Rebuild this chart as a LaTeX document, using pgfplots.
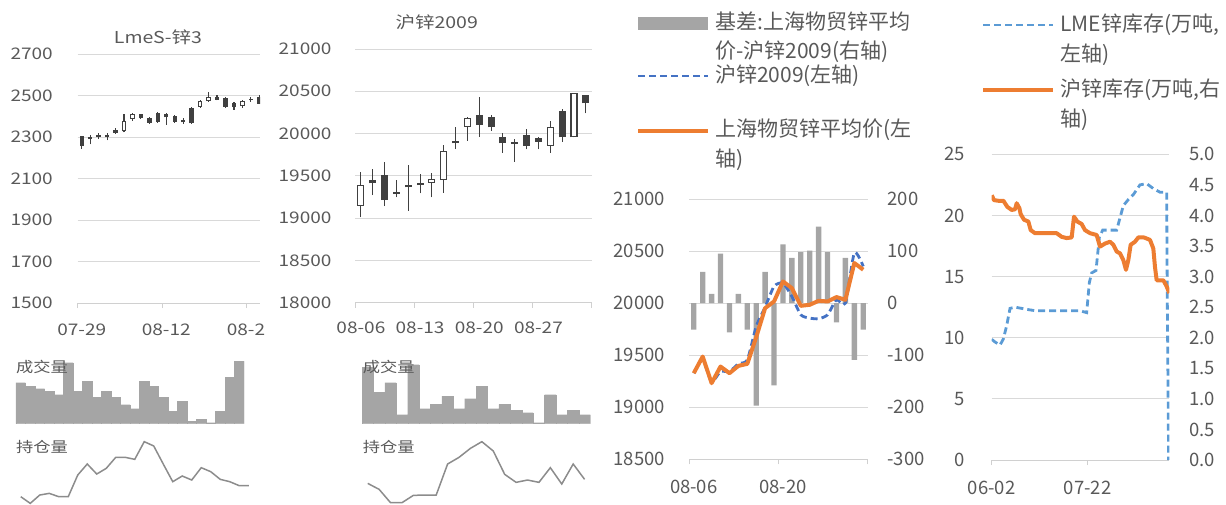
\documentclass[border=0pt]{standalone}
\usepackage{fontspec}
\setmainfont{Noto Sans CJK SC}
\newfontfamily\wf{Noto Sans CJK SC}[FakeStretch=1.19]
\usepackage{pgfplots}
\pgfplotsset{compat=1.18}
\definecolor{tg}{HTML}{595959}
\definecolor{gg}{HTML}{D9D9D9}
\definecolor{ag}{HTML}{D0D0D0}
\definecolor{bg}{HTML}{A5A5A5}
\definecolor{cd}{HTML}{404040}
\definecolor{og}{HTML}{ED7D31}
\definecolor{bA}{HTML}{4472C4}
\definecolor{bB}{HTML}{5B9BD5}
\definecolor{oigray}{HTML}{8C8C8C}
\newcommand\smallfont{\wf\fontsize{16}{19}\selectfont}
\newcommand\tickfont{\fontsize{18.5}{22}\selectfont}
\newcommand\legfont{\fontsize{21}{30}\selectfont}
\newcommand\subfont{\wf\fontsize{14.5}{16}\selectfont}
\tikzset{bdash/.style={line width=2.8pt, dash pattern=on 7pt off 4pt}}
\pgfplotsset{
 base/.style={scale only axis, anchor=south west, separate axis lines,
   axis x line*=bottom, axis y line*=left,
   x axis line style={draw=ag, line width=0.8pt, -},
   y axis line style={draw=none},
   ymajorgrids, grid style={draw=gg, line width=0.8pt},
   major tick length=0pt, minor tick length=5pt, tick align=outside,
   minor tick style={draw=ag, line width=0.8pt},
   tick label style={text=tg}, scaled y ticks=false,
   /pgf/number format/assume math mode=true, /pgf/number format/1000 sep={},
   /pgf/number format/fixed,
   yticklabel style={anchor=east, inner sep=0pt},
   xticklabel style={anchor=center, inner sep=0pt}},
 seg/.style 2 args={draw=none, mark=none, error bars/.cd, y dir=plus, y explicit,
   error mark=none, error bar style={draw=#1, line width=#2, line cap=butt}},
 volax/.style={scale only axis, anchor=south west, axis y line=none, axis x line*=bottom,
   x axis line style={draw=gg, line width=0.8pt, -}, xtick=\empty, ymin=0, ymax=190},
 oiax/.style={scale only axis, anchor=south west, hide axis, clip=false, ymin=-500, ymax=-300},
}
\begin{document}
\begin{tikzpicture}
\path[use as bounding box] (0pt,0pt) rectangle (1226pt,-505pt);

% ---------------- Panel 1: LmeS-zinc 3 (candles: wick low+range, body low+height) ----------------
\begin{axis}[base, at={(77.5pt,-303pt)}, width=182.5pt, height=249pt,
  xmin=-0.5, xmax=21.08, ymin=1500, ymax=2700, ytick={1500,1700,...,2700},
  xtick={0,10,19.42}, xticklabels={07-29,08-12,08-2}, minor xtick={-0.5,9.5,19.5},
  tick label style={font=\smallfont}, yticklabel style={xshift=-24.5pt}, xticklabel style={yshift=-27pt}]
\addplot[seg={cd}{1.1pt}] coordinates {
(0,2243) +- (0,63) (1,2264) +- (0,47) (2,2290) +- (0,29) (3,2284) +- (0,37) (4,2316) +- (0,26)
(5,2322) +- (0,91) (6,2379) +- (0,38) (7,2387) +- (0,26) (8,2364) +- (0,31) (9,2369) +- (0,53)
(10,2358) +- (0,59) (11,2369) +- (0,37) (12,2365) +- (0,25) (13,2363) +- (0,82) (14,2440) +- (0,39)
(15,2470) +- (0,46) (16,2477) +- (0,23) (17,2442) +- (0,53) (18,2432) +- (0,36) (19,2442) +- (0,37)
(20,2471) +- (0,21) (21,2458) +- (0,42)};
\addplot[seg={cd}{4.4pt}] coordinates {
(0,2256) +- (0,47) (1,2290) +- (0,10) (2,2300) +- (0,11) (3,2300) +- (0,11) (4,2319) +- (0,16)
(5,2327) +- (0,52) (6,2387) +- (0,22) (7,2390) +- (0,19) (8,2369) +- (0,21) (9,2374) +- (0,43)
(10,2394) +- (0,19) (11,2374) +- (0,27) (12,2370) +- (0,12) (13,2366) +- (0,76) (14,2445) +- (0,28)
(15,2473) +- (0,19) (16,2480) +- (0,12) (17,2445) +- (0,44) (18,2445) +- (0,19) (19,2448) +- (0,25)
(20,2476) +- (0,8) (21,2461) +- (0,31)};
\addplot[seg={white}{2.4pt}] coordinates {
(5,2332) +- (0,42) (6,2392) +- (0,12) (14,2450) +- (0,18) (15,2478) +- (0,9) (19,2453) +- (0,15)};
\end{axis}
\node[text=tg, font=\wf\fontsize{16.4}{19}\selectfont] at (158pt,-37pt) {LmeS-锌3};

\begin{axis}[volax, at={(16pt,-423.7pt)}, width=228pt, height=63.3pt, xmin=-0.5, xmax=23.5]
\addplot[ybar, bar width=1, bar shift=0pt, fill=bg, draw=bg, line width=0.3pt] coordinates {
(0,123) (1,112) (2,105) (3,98) (4,87) (5,183) (6,98) (7,127) (8,80) (9,98) (10,80) (11,57)
(12,45) (13,127) (14,112) (15,80) (16,38) (17,67) (18,8) (19,13) (20,3) (21,38) (22,140) (23,187)};
\end{axis}
\begin{axis}[oiax, at={(16pt,-506.7pt)}, width=228pt, height=66.7pt, xmin=-0.5, xmax=23.5]
\addplot[oigray, line width=1.5pt] coordinates {
(0,-470) (1,-490) (2,-465) (3,-460) (4,-470) (5,-470) (6,-405) (7,-372) (8,-402) (9,-385)
(10,-352) (11,-352) (12,-358) (13,-305) (14,-318) (15,-372) (16,-425) (17,-408) (18,-420)
(19,-383) (20,-395) (21,-418) (22,-425) (23,-437) (24,-437)};
\end{axis}
\node[anchor=west, inner sep=0pt, text=tg, font=\subfont] at (16pt,-367pt) {成交量};
\node[anchor=west, inner sep=0pt, text=tg, font=\subfont] at (16pt,-447pt) {持仓量};

% ---------------- Panel 2: SHFE zinc 2009 ----------------
\begin{axis}[base, at={(355pt,-302.7pt)}, width=236.7pt, height=253.7pt,
  xmin=-0.5, xmax=19.5, ymin=18000, ymax=21000, ytick={18000,18500,...,21000},
  xtick={0,5,10,15}, xticklabels={08-06,08-13,08-20,08-27}, minor xtick={-0.5,4.5,9.5,14.5,19.5},
  tick label style={font=\smallfont}, yticklabel style={xshift=-23.3pt}, xticklabel style={yshift=-25.3pt}]
\addplot[seg={cd}{1.1pt}] coordinates {
(0,19009) +- (0,540) (1,19273) +- (0,304) (2,19143) +- (0,524) (3,19245) +- (0,205) (4,19088) +- (0,540)
(5,19293) +- (0,227) (6,19245) +- (0,292) (7,19300) +- (0,564) (8,19817) +- (0,256) (9,19915) +- (0,285)
(10,19963) +- (0,473) (11,20034) +- (0,185) (12,19774) +- (0,236) (13,19667) +- (0,264) (14,19813) +- (0,237)
(15,19813) +- (0,150) (16,19774) +- (0,378) (17,19904) +- (0,382) (18,19955) +- (0,528) (19,20239) +- (0,217)};
\addplot[seg={cd}{7.1pt}] coordinates {
(0,19147) +- (0,244) (1,19411) +- (0,39) (2,19214) +- (0,296) (3,19290) +- (0,20) (4,19365) +- (0,25)
(5,19390) +- (0,20) (6,19420) +- (0,42) (7,19450) +- (0,343) (8,19885) +- (0,30) (9,20081) +- (0,99)
(10,20101) +- (0,118) (11,20073) +- (0,127) (12,19884) +- (0,79) (13,19876) +- (0,28) (14,19853) +- (0,130)
(15,19904) +- (0,39) (16,19857) +- (0,224) (17,19955) +- (0,316) (18,19955) +- (0,528) (19,20357) +- (0,99)};
\addplot[seg={white}{4.9pt}] coordinates {
(0,19160) +- (0,218) (6,19433) +- (0,16) (7,19463) +- (0,317) (9,20094) +- (0,73) (16,19870) +- (0,198)
(18,19968) +- (0,502)};
\end{axis}
\node[text=tg, font=\wf\fontsize{16.4}{19}\selectfont] at (436.7pt,-22pt) {沪锌2009};

\begin{axis}[volax, at={(362pt,-423.7pt)}, width=228.3pt, height=63.3pt, xmin=-0.5, xmax=19.5]
\addplot[ybar, bar width=1, bar shift=0pt, fill=bg, draw=bg, line width=0.3pt] coordinates {
(0,170) (1,95) (2,123) (3,27) (4,177) (5,45) (6,58) (7,83) (8,45) (9,75) (10,112) (11,45)
(12,58) (13,40) (14,33) (15,3) (16,87) (17,27) (18,40) (19,27)};
\end{axis}
\begin{axis}[oiax, at={(362pt,-506.7pt)}, width=228.3pt, height=66.7pt, xmin=-0.5, xmax=19.5]
\addplot[oigray, line width=1.5pt] coordinates {
(0,-430) (1,-448) (2,-488) (3,-488) (4,-466) (5,-465) (6,-465) (7,-372) (8,-352) (9,-325)
(10,-305) (11,-333) (12,-403) (13,-427) (14,-420) (15,-427) (16,-383) (17,-432) (18,-372) (19,-418)};
\end{axis}
\node[anchor=west, inner sep=0pt, text=tg, font=\subfont] at (362.7pt,-367pt) {成交量};
\node[anchor=west, inner sep=0pt, text=tg, font=\subfont] at (362.7pt,-447pt) {持仓量};

% ---------------- Panel 3: basis ----------------
\begin{axis}[base, at={(689.3pt,-459.3pt)}, width=178.4pt, height=260.3pt,
  xmin=-0.5, xmax=19.5, ymin=-300, ymax=200, ytick={-300,-200,-100,0,100,200},
  yticklabels={-300,-200,-100,0,100,200}, axis y line*=right,
  yticklabel style={anchor=west, xshift=19.6pt},
  xtick={0,10}, xticklabels={08-06,08-20}, minor xtick={-0.5,9.5,19.5},
  xticklabel style={yshift=-27.4pt}, tick label style={font=\tickfont}]
\addplot[ybar, bar width=0.6, bar shift=0pt, fill=bg, draw=none] coordinates {
(0,-51) (1,60) (2,18) (3,95) (4,-56) (5,18) (6,-51) (7,-197) (8,60) (9,-158)
(10,113) (11,87) (12,98) (13,101) (14,147) (15,98) (16,-37) (17,87) (18,-109) (19,-51)};
\end{axis}
\begin{axis}[base, at={(689.3pt,-459.3pt)}, width=178.4pt, height=260.3pt,
  xmin=-0.5, xmax=19.5, ymin=18500, ymax=21000, ytick={18500,19000,...,21000},
  ymajorgrids=false, axis x line=none, xtick=\empty,
  yticklabel style={xshift=-24.3pt}, tick label style={font=\tickfont}]
\addplot[bA, bdash, smooth, tension=0.4] coordinates {
(0,19327) (1,19455) (2,19247) (3,19343) (4,19343) (5,19417) (6,19455) (7,19776) (8,19962) (9,20160)
(10,20192) (11,20064) (12,19888) (13,19856) (14,19850) (15,19888) (16,20032) (17,20000) (18,20481) (19,20353)};
\addplot[og, line width=4pt, line join=round] coordinates {
(0,19327) (1,19487) (2,19231) (3,19391) (4,19327) (5,19397) (6,19417) (7,19673) (8,19952) (9,20016)
(10,20208) (11,20144) (12,19974) (13,19984) (14,20022) (15,20016) (16,20058) (17,20032) (18,20385) (19,20321)};
\end{axis}

% ---------------- Panel 4: inventories ----------------
\begin{axis}[base, at={(991.7pt,-460pt)}, width=177.6pt, height=305.7pt,
  xmin=215, xmax=748, ymin=0, ymax=25, ytick={0,5,...,25},
  xtick={215,503}, xticklabels={06-02,07-22}, minor xtick={215,503},
  yticklabel style={xshift=-26.7pt}, xticklabel style={yshift=-28pt}, tick label style={font=\tickfont}]
\addplot[bB, bdash] coordinates {
(215,9.87) (225,9.65) (240,9.40) (250,9.9) (260,11.0) (270,12.4) (285,12.5) (320,12.32) (345,12.21)
(420,12.21) (480,12.21) (500,12.05) (508,14.5) (515,15.3) (528,15.5) (538,18.2) (548,18.8) (590,18.8)
(598,19.6) (610,20.8) (625,21.3) (640,21.7) (660,22.5) (680,22.6) (700,22.2) (720,21.9) (740,21.9)
(742,13) (746,0)};
\end{axis}
\begin{axis}[base, at={(991.7pt,-460pt)}, width=177.6pt, height=305.7pt,
  xmin=215, xmax=748, ymin=0, ymax=5, ytick={0,0.5,1,1.5,2,2.5,3,3.5,4,4.5,5},
  yticklabels={0.0,0.5,1.0,1.5,2.0,2.5,3.0,3.5,4.0,4.5,5.0},
  ymajorgrids=false, axis x line=none, xtick=\empty, axis y line*=right,
  yticklabel style={anchor=west, xshift=20pt}, tick label style={font=\tickfont}]
\addplot[og, line width=4pt, line join=round] coordinates {
(215,4.33) (222,4.25) (235,4.24) (250,4.24) (262,4.14) (275,4.09) (285,4.10) (290,4.20) (298,4.12)
(302,4.02) (312,3.93) (325,3.90) (332,3.76) (345,3.71) (410,3.71) (425,3.65) (440,3.63) (455,3.64)
(462,3.98) (472,3.90) (485,3.86) (495,3.76) (510,3.71) (530,3.68) (540,3.49) (555,3.54) (570,3.57)
(580,3.52) (590,3.41) (600,3.38) (610,3.27) (618,3.11) (625,3.27) (632,3.52) (645,3.57) (655,3.64)
(672,3.64) (690,3.60) (700,3.46) (705,3.16) (710,2.94) (730,2.94) (740,2.84) (748,2.73)};
\end{axis}

% ---------------- legends ----------------
\begin{scope}[x=1pt, y=1pt]
\fill[bg] (638,-17) rectangle (708,-30);
\draw[bA, bdash] (638,-76) -- (708,-76);
\draw[og, line width=4pt] (638,-131) -- (708,-131);
\draw[bB, bdash] (983,-25) -- (1053,-25);
\draw[og, line width=4pt] (983,-90) -- (1053,-90);
\begin{scope}[every node/.style={anchor=west, inner sep=0pt, text=tg, font=\legfont}]
\node at (715,-22) {基差:上海物贸锌平均};
\node at (715,-52) {价-沪锌2009(右轴)};
\node at (715,-76) {沪锌2009(左轴)};
\node at (715,-130) {上海物贸锌平均价(左};
\node at (715,-160) {轴)};
\node at (1060,-25) {LME锌库存(万吨,};
\node at (1060,-55) {左轴)};
\node at (1060,-90) {沪锌库存(万吨,右};
\node at (1060,-120) {轴)};
\end{scope}
\end{scope}
\end{tikzpicture}
\end{document}
